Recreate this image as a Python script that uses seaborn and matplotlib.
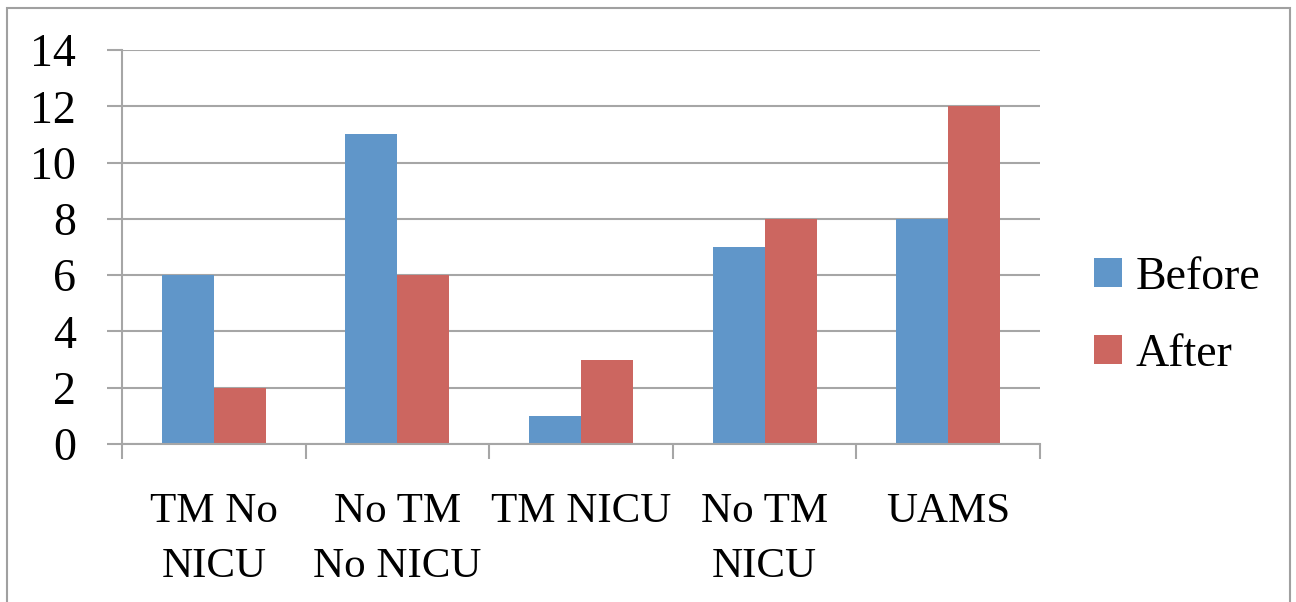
import numpy as np
import pandas as pd
import matplotlib.pyplot as plt
import seaborn as sns
from matplotlib.patches import Rectangle
from matplotlib.ticker import FixedLocator

# данные
categories = ["TM No\nNICU", "No TM\nNo NICU", "TM NICU", "No TM\nNICU", "UAMS"]
before = [6, 11, 1, 7, 8]
after = [2, 6, 3, 8, 12]
series = ["Before", "After"]
colors = ["#6096C9", "#CC6660"]

df = pd.DataFrame({
    "category": categories * 2,
    "value": before + after,
    "series": [series[0]] * len(categories) + [series[1]] * len(categories),
})

sns.set_style("white")
plt.rcParams["font.family"] = ["Liberation Serif", "DejaVu Serif"]
plt.rcParams["text.color"] = "black"
plt.rcParams["xtick.labelcolor"] = "black"
plt.rcParams["ytick.labelcolor"] = "black"

fig = plt.figure(figsize=(12.96, 6.02), dpi=100)
ax = fig.add_axes([122 / 1296, 1 - 444 / 602, (1040 - 122) / 1296, (444 - 50) / 602])

sns.barplot(data=df, x="category", y="value", hue="series", order=categories,
            palette=colors, width=0.567, saturation=1, ax=ax, gap=0, linewidth=0)

grid_c = "#A6A6A6"
fs = 31
ax.set_ylim(0, 14)
ax.set_xlim(-0.5, len(categories) - 0.5)
ax.set_yticks(range(0, 15, 2))
ax.yaxis.grid(True, color=grid_c, linewidth=1.5)
ax.set_axisbelow(True)
for s in ["top", "right"]:
    ax.spines[s].set_visible(False)
for s in ["left", "bottom"]:
    ax.spines[s].set_color(grid_c)
    ax.spines[s].set_linewidth(1.5)

ax.tick_params(axis="y", length=11, width=1.5, color=grid_c, labelsize=fs + 2, pad=22, left=True)
ax.tick_params(axis="x", which="major", length=0, labelsize=fs, pad=35)
ax.xaxis.set_minor_locator(FixedLocator(np.arange(-0.5, len(categories), 1.0)))
ax.tick_params(axis="x", which="minor", length=11, width=1.5, color=grid_c, bottom=True)
ax.set_xlabel("")
ax.set_ylabel("")

for lbl in ax.get_xticklabels():
    lbl.set_multialignment("center")
    lbl.set_linespacing(1.55)

ax.legend(loc="center left", bbox_to_anchor=(1094 / 1296, 1 - 316 / 602),
          bbox_transform=fig.transFigure, frameon=False, fontsize=fs + 2,
          handlelength=0.6, handleheight=0.6, handletextpad=0.3, labelspacing=0.75,
          borderpad=0, borderaxespad=0)

fig.patches.append(Rectangle((7 / 1296, -0.01), 1283 / 1296, 1 - 8 / 602 + 0.01,
                             transform=fig.transFigure, fill=False,
                             edgecolor="#A0A0A0", linewidth=1.5))

fig.savefig("out.png", dpi=100)
